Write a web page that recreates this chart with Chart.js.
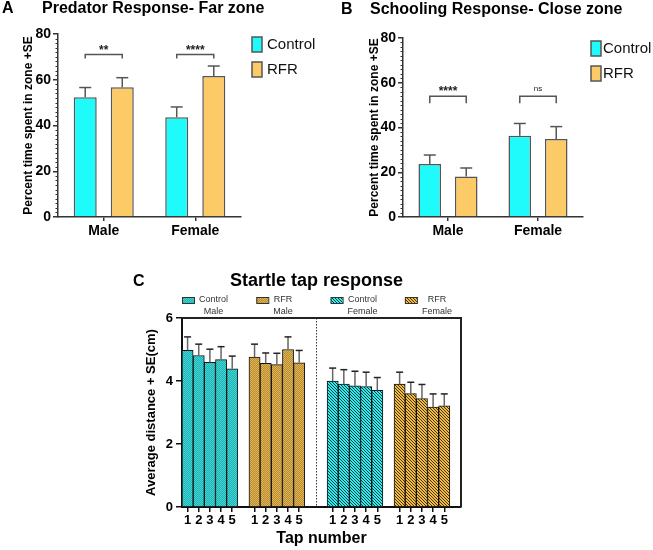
<!DOCTYPE html>
<html>
<head>
<meta charset="utf-8">
<script src="https://cdn.jsdelivr.net/npm/chart.js@4.4.1/dist/chart.umd.min.js"></script>
<style>
  body { margin: 0; background: #fff; }
  #wrap { position: relative; width: 653px; height: 550px; overflow: hidden; font-family: "Liberation Sans", Arial, sans-serif; }
  canvas { position: absolute; }
  .lbl { position: absolute; font-weight: bold; white-space: nowrap; color: #000; }
</style>
</head>
<body>
<div id="wrap">
  <canvas id="chartA" width="325" height="250" style="left:0;top:0"></canvas>
  <canvas id="chartB" width="328" height="250" style="left:325px;top:0"></canvas>
  <canvas id="chartC" width="340" height="280" style="left:130px;top:270px"></canvas>
  <div class="lbl" style="left:2px;top:0;font-size:16px;line-height:16px">A</div>
  <div class="lbl" style="left:42px;top:0;font-size:16px;line-height:16px">Predator Response- Far zone</div>
  <div class="lbl" style="left:341px;top:1px;font-size:16px;line-height:16px">B</div>
  <div class="lbl" style="left:370px;top:1px;font-size:16px;line-height:16px">Schooling Response- Close zone</div>
  <div class="lbl" style="left:133px;top:273px;font-size:16px;line-height:16px">C</div>
  <div class="lbl" style="left:230px;top:271px;font-size:18px;line-height:18px">Startle tap response</div>
</div>
<script>
const FONT = '"Liberation Sans", Arial, sans-serif';
Chart.defaults.font.family = FONT;

// panels A and B: two sexes, control vs RFR
const sexes = ['Male', 'Female'];
const groupNames = ['Control', 'RFR'];

// A - predator response, far zone (% time)
const farControl = [52.3, 43.6];
const farControlSE = [4.3, 4.5];
const farRFR = [56.7, 61.6];
const farRFRSE = [4.2, 4.4];
const farSig = ['**', '****'];
const farSigLevel = 71;

// B - schooling response, close zone (% time)
const closeControl = [23.7, 36.3];
const closeControlSE = [4.0, 5.5];
const closeRFR = [18.1, 34.9];
const closeRFRSE = [3.8, 5.5];
const closeSig = ['****', 'ns'];
const closeSigLevel = 54;

// C - startle tap response (cm)
const taps = ['1', '2', '3', '4', '5'];
const startleGroups = ['Control\nMale', 'RFR\nMale', 'Control\nFemale', 'RFR\nFemale'];
const ctrlMale = [4.97, 4.81, 4.59, 4.68, 4.39];
const ctrlMaleSE = [0.43, 0.36, 0.42, 0.41, 0.40];
const rfrMale = [4.76, 4.56, 4.52, 5.00, 4.58];
const rfrMaleSE = [0.41, 0.33, 0.36, 0.40, 0.39];
const ctrlFemale = [4.00, 3.90, 3.85, 3.82, 3.70];
const ctrlFemaleSE = [0.41, 0.46, 0.46, 0.46, 0.41];
const rfrFemale = [3.90, 3.60, 3.44, 3.17, 3.21];
const rfrFemaleSE = [0.38, 0.36, 0.45, 0.42, 0.38];

// ---- plugins ----
const errorBars = {
  id: 'errorBars',
  afterDatasetsDraw(chart, args, opts) {
    const ctx = chart.ctx, y = chart.scales.y;
    chart.data.datasets.forEach((ds, i) => {
      chart.getDatasetMeta(i).data.forEach((bar, j) => {
        const v = ds.data[j];
        if (v == null) return;
        const top = y.getPixelForValue(v + ds.se[j]);
        ctx.save();
        ctx.lineWidth = opts.width;
        ctx.strokeStyle = opts.stem;
        ctx.beginPath(); ctx.moveTo(bar.x, bar.y); ctx.lineTo(bar.x, top); ctx.stroke();
        ctx.strokeStyle = opts.cap;
        ctx.beginPath(); ctx.moveTo(bar.x - opts.capWidth / 2, top); ctx.lineTo(bar.x + opts.capWidth / 2, top); ctx.stroke();
        ctx.restore();
      });
    });
  }
};

const minorTicks = {
  id: 'minorTicks',
  afterDraw(chart, args, opts) {
    const s = chart.scales.y, ctx = chart.ctx;
    ctx.save();
    ctx.strokeStyle = opts.color; ctx.lineWidth = 1;
    for (let v = s.min; v <= s.max; v += opts.step) {
      if (v % opts.major === 0) continue;
      const py = Math.round(s.getPixelForValue(v)) + 0.5;
      ctx.beginPath(); ctx.moveTo(s.right - opts.length, py); ctx.lineTo(s.right, py); ctx.stroke();
    }
    ctx.restore();
  }
};

const brackets = {
  id: 'brackets',
  afterDatasetsDraw(chart, args, opts) {
    const ctx = chart.ctx, y = chart.scales.y.getPixelForValue(opts.level);
    const m0 = chart.getDatasetMeta(0), m1 = chart.getDatasetMeta(1);
    opts.marks.forEach((lab, k) => {
      const x1 = m0.data[k].x, x2 = m1.data[k].x;
      ctx.save();
      ctx.strokeStyle = '#555'; ctx.lineWidth = 1.5;
      ctx.beginPath();
      ctx.moveTo(x1, y + opts.leg); ctx.lineTo(x1, y); ctx.lineTo(x2, y); ctx.lineTo(x2, y + opts.leg);
      ctx.stroke();
      const ns = lab === 'ns';
      ctx.fillStyle = '#222'; ctx.textAlign = 'center'; ctx.textBaseline = 'alphabetic';
      ctx.font = ns ? '8px ' + FONT : 'bold 12px ' + FONT;
      ctx.fillText(lab, (x1 + x2) / 2, ns ? y - 5 : y - 1);
      ctx.restore();
    });
  }
};

const sideLegend = {
  id: 'sideLegend',
  afterDraw(chart, args, opts) {
    const {ctx, chartArea} = chart;
    chart.data.datasets.forEach((ds, i) => {
      const x = chartArea.right + opts.dx, y = chartArea.top + 3 + i * 25;
      ctx.save();
      ctx.fillStyle = ds.backgroundColor; ctx.fillRect(x, y, 10, 15);
      ctx.strokeStyle = ds.borderColor; ctx.lineWidth = 1.5; ctx.strokeRect(x, y, 10, 15);
      ctx.fillStyle = '#111'; ctx.font = '15px ' + FONT; ctx.textBaseline = 'middle';
      ctx.fillText(ds.label, x + opts.gap, y + 7.5);
      ctx.restore();
    });
  }
};

const topLegend = {
  id: 'topLegend',
  afterDraw(chart, args, opts) {
    const {ctx, chartArea} = chart;
    ctx.save();
    ctx.font = '9px ' + FONT;
    chart.data.datasets.forEach((ds, i) => {
      const bx = chartArea.left + i * opts.spacing, by = chartArea.top - 21;
      ctx.fillStyle = ds.backgroundColor; ctx.fillRect(bx, by, 12, 6);
      ctx.strokeStyle = '#333'; ctx.lineWidth = 1; ctx.strokeRect(bx + 0.5, by + 0.5, 12, 6);
      const lines = ds.label.split('\n');
      const w = Math.max(...lines.map(l => ctx.measureText(l).width));
      const cx = bx + 17 + w / 2;
      ctx.fillStyle = '#333'; ctx.textAlign = 'center'; ctx.textBaseline = 'middle';
      lines.forEach((l, k) => ctx.fillText(l, cx, chartArea.top - 18 + k * 11.5));
    });
    ctx.restore();
  }
};

const frame = {
  id: 'frame',
  afterDatasetsDraw(chart, args, opts) {
    const {ctx, chartArea: a} = chart;
    const x = chart.scales.x;
    const xs = (x.getPixelForValue(opts.splitAfter) + x.getPixelForValue(opts.splitAfter + 1)) / 2;
    ctx.save();
    ctx.strokeStyle = '#333'; ctx.lineWidth = 1; ctx.setLineDash([1.5, 1.5]);
    ctx.beginPath(); ctx.moveTo(Math.round(xs) + 0.5, a.top); ctx.lineTo(Math.round(xs) + 0.5, a.bottom); ctx.stroke();
    ctx.setLineDash([]); ctx.lineWidth = 2; ctx.strokeStyle = '#222';
    ctx.beginPath(); ctx.moveTo(a.left, a.top); ctx.lineTo(a.right, a.top); ctx.lineTo(a.right, a.bottom); ctx.stroke();
    ctx.restore();
  }
};

// ---- panels A and B ----
function sexChart(id, ctrl, ctrlSE, rfr, rfrSE, sig, sigLevel, lay) {
  return new Chart(document.getElementById(id), {
    type: 'bar',
    data: {
      labels: sexes,
      datasets: [
        { label: groupNames[0], data: ctrl, se: ctrlSE, backgroundColor: '#1ffbfb', borderColor: '#555',
          borderWidth: 1.5, categoryPercentage: 0.81, barPercentage: 0.62 },
        { label: groupNames[1], data: rfr, se: rfrSE, backgroundColor: '#fdca68', borderColor: '#555',
          borderWidth: 1.5, categoryPercentage: 0.81, barPercentage: 0.62 }
      ]
    },
    options: {
      responsive: false,
      animation: false,
      layout: { padding: { top: lay.top, right: lay.right, left: 0, bottom: 0 } },
      plugins: {
        legend: { display: false },
        tooltip: { enabled: false },
        errorBars: { width: 1.5, stem: '#555', cap: '#555', capWidth: 12 },
        minorTicks: { step: 2, major: 20, length: 2.5, color: '#333' },
        brackets: { level: sigLevel, marks: sig, leg: lay.leg },
        sideLegend: { dx: lay.dx, gap: lay.gap }
      },
      scales: {
        x: {
          grid: { drawOnChartArea: false, offset: false, tickLength: 4, color: '#333', lineWidth: 1.5 },
          border: { color: '#333', width: 1.5 },
          ticks: { padding: 2, color: '#000', font: { size: 14, weight: 'bold' } },
          afterFit: s => { s.height = lay.xh; }
        },
        y: {
          min: 0, max: 80,
          ticks: { stepSize: 20, padding: 2, color: '#000', font: { size: 14, weight: 'bold' } },
          grid: { drawOnChartArea: false, tickLength: 5, color: '#333', lineWidth: 1.5 },
          border: { color: '#333', width: 1.5 },
          title: { display: true, text: 'Percent time spent in zone +SE', color: '#000',
                   font: { size: 12, weight: 'bold' }, padding: { top: lay.tp, bottom: 0 } },
          afterFit: s => { s.width = lay.yw; }
        }
      }
    },
    plugins: [errorBars, minorTicks, brackets, sideLegend]
  });
}

sexChart('chartA', farControl, farControlSE, farRFR, farRFRSE, farSig, farSigLevel,
  { top: 34, right: 84, xh: 33, yw: 58, tp: 21, leg: 4, dx: 11, gap: 15 });
sexChart('chartB', closeControl, closeControlSE, closeRFR, closeRFRSE, closeSig, closeSigLevel,
  { top: 38, right: 70, xh: 33, yw: 78, tp: 42, leg: 7, dx: 8, gap: 12 });

// ---- panel C ----
function pattern(kind, base, ink) {
  const c = document.createElement('canvas');
  const n = kind === 'checker' ? 2 : 3;
  c.width = c.height = n;
  const g = c.getContext('2d');
  g.fillStyle = base; g.fillRect(0, 0, n, n);
  g.fillStyle = ink;
  for (let i = 0; i < n; i++) {
    for (let j = 0; j < n; j++) {
      if (kind === 'checker' ? (i + j) % 2 === 1 : i === j) g.fillRect(i, j, 1, 1);
    }
  }
  return g.createPattern(c, 'repeat');
}

// 5 bars per group, empty slots between groups
const slotStart = [0, 6, 13, 19];
const nSlots = 25;
const tapLabels = Array(nSlots).fill('');
slotStart.forEach(s => taps.forEach((t, k) => { tapLabels[s + k] = t; }));

function place(vals, g) {
  const a = Array(nSlots).fill(null);
  vals.forEach((v, k) => { a[slotStart[g] + k] = v; });
  return a;
}

const cFills = [
  pattern('checker', '#3ed6d6', '#22b0b0'),
  pattern('checker', '#e0b456', '#b88c30'),
  pattern('stripe', '#2af0f2', '#0b3b40'),
  pattern('stripe', '#f2bd45', '#4a3208')
];
const cValues = [ctrlMale, rfrMale, ctrlFemale, rfrFemale];
const cErrors = [ctrlMaleSE, rfrMaleSE, ctrlFemaleSE, rfrFemaleSE];

new Chart(document.getElementById('chartC'), {
  type: 'bar',
  data: {
    labels: tapLabels,
    datasets: startleGroups.map((name, g) => ({
      label: name,
      data: place(cValues[g], g),
      se: place(cErrors[g], g),
      backgroundColor: cFills[g],
      borderColor: '#111',
      borderWidth: 1,
      grouped: false,
      barPercentage: 1,
      categoryPercentage: 1
    }))
  },
  options: {
    responsive: false,
    animation: false,
    layout: { padding: { top: 48, right: 9, left: 0, bottom: 0 } },
    plugins: {
      legend: { display: false },
      tooltip: { enabled: false },
      errorBars: { width: 1.5, stem: '#666', cap: '#222', capWidth: 7 },
      topLegend: { spacing: 74.3 },
      frame: { splitAfter: 11 }
    },
    scales: {
      x: {
        grid: { drawOnChartArea: false, offset: false, tickLength: 5, lineWidth: 1.5,
                tickColor: c => tapLabels[c.index] ? '#111' : 'rgba(0,0,0,0)' },
        border: { color: '#111', width: 2 },
        ticks: { autoSkip: false, maxRotation: 0, padding: 1, color: '#000', font: { size: 13, weight: 'bold' } },
        title: { display: true, text: 'Tap number', color: '#000', font: { size: 16, weight: 'bold' },
                 padding: { top: 0, bottom: 2 } },
        afterFit: s => { s.height = 43; }
      },
      y: {
        min: 0, max: 6,
        ticks: { stepSize: 2, padding: 3, color: '#000', font: { size: 13, weight: 'bold' } },
        grid: { drawOnChartArea: false, tickLength: 6, color: '#111', lineWidth: 1.5 },
        border: { color: '#111', width: 2 },
        title: { display: true, text: 'Average distance + SE(cm)', color: '#000',
                 font: { size: 13, weight: 'bold' }, padding: { top: 14, bottom: 0 } },
        afterFit: s => { s.width = 52; }
      }
    }
  },
  plugins: [errorBars, topLegend, frame]
});
</script>
</body>
</html>
